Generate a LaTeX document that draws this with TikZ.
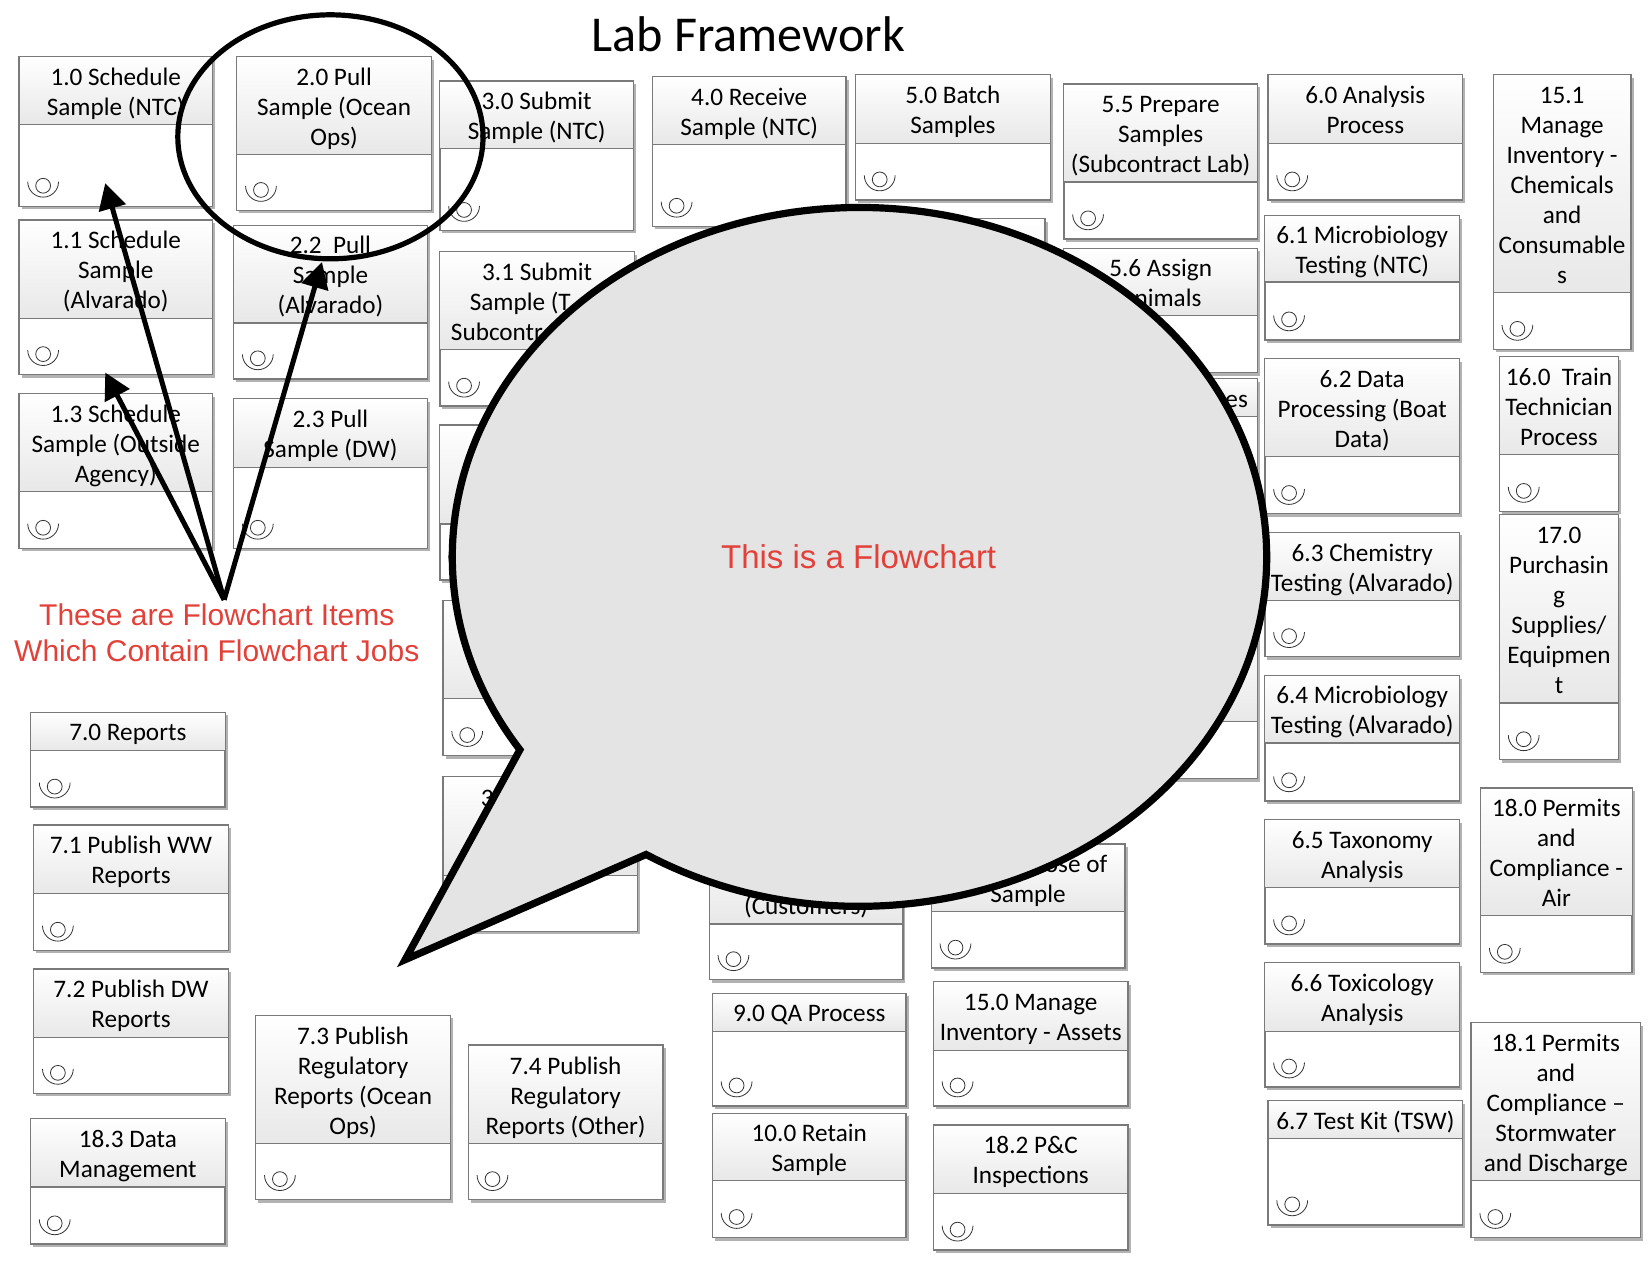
\documentclass[tikz,border=0pt]{standalone}
\usepackage{fontspec}
\setmainfont{Carlito}
\newfontfamily\calloutfont{Liberation Sans}
\usetikzlibrary{arrows.meta, positioning, calc, fit, shadows, shapes.geometric}

\definecolor{itemline}{HTML}{7A7A7A}
\definecolor{bubblegray}{HTML}{E4E4E4}
\definecolor{noteRed}{HTML}{E2413A}

\tikzset{
  itembox/.style={draw=itemline, line width=0.7pt, fill=white, inner sep=0pt,
    drop shadow={shadow xshift=1.3pt, shadow yshift=-1.5pt, fill=black, opacity=0.3}},
  itemhead/.style={draw=itemline, line width=0.6pt, top color=white, bottom color=black!9, inner sep=0pt},
  itemtext/.style={align=center, inner sep=0pt, yshift=-1.8pt, font=\fontsize{12.6}{15}\selectfont},
  itemicon/.style={line width=0.4pt, black!80},
  notetext/.style={text=noteRed, align=center, inner sep=0pt, font=\calloutfont\fontsize{15}{18}\selectfont},
  pointer/.style={line width=2.5pt, -{Triangle[length=13pt, width=13.5pt]}}
}

\newcommand{\itemstrut}{\rule[-4.5pt]{0pt}{15pt}}

% name, left, top, right, bottom, bottom of header, text
\newcommand{\flowitem}[7]{
  \node[itembox, fit={(#2,#3) (#4,#5)}] (#1) {};
  \node[itemhead, fit={(#2,#3) (#4,#6)}] (#1-head) {};
  \node[itemtext] (#1-text) at (#1-head.center) {\itemstrut #7\itemstrut};
  \draw[itemicon] (#2+23,#5-19.5) circle (3.7pt);
  \draw[itemicon] ($(#2+23,#5-23.3)+(180:7.7pt)$) arc[start angle=180, end angle=360, radius=7.7pt];
}

\begin{document}
\begin{tikzpicture}[x=0.52615pt, y=-0.52615pt]
\useasboundingbox (0,0) rectangle (1568,1212);

\node[font=\fontsize{25.1}{28}\selectfont, inner sep=0pt] (title) at (711,33) {Lab Framework};

% Schedule and pull columns
\flowitem{item10}{18}{54}{202}{196}{118}{1.0 Schedule\\Sample (NTC)}
\flowitem{item11}{18}{209}{202}{356}{303}{1.1 Schedule\\Sample\\(Alvarado)}
\flowitem{item13}{18}{374}{202}{521}{467}{1.3 Schedule\\Sample (Outside\\Agency)}
\flowitem{item20}{225}{54}{410}{200}{147}{2.0 Pull\\Sample (Ocean\\Ops)}
\flowitem{item22}{222}{214}{406}{360}{307}{2.2\ \ Pull\\Sample\\(Alvarado)}
\flowitem{item23}{222}{379}{406}{521}{444}{2.3 Pull\\Sample (DW)}

% Submit column
\flowitem{item30}{418}{77}{602}{219}{141}{3.0 Submit\\Sample (NTC)}
\flowitem{item31}{418}{239}{603}{386}{332}{3.1 Submit\\Sample (T\phantom{SW}\\Subcontr\phantom{act Lab)}}
\flowitem{item32}{418}{404}{603}{551}{498}{}
\flowitem{item33}{421}{571}{606}{718}{664}{}
\flowitem{item34}{421}{738}{606}{885}{832}{}
\node[itemtext] (item34-frag) at (463,755) {3};

% Receive and batch columns
\flowitem{item40}{620}{73}{804}{215}{137}{4.0 Receive\\Sample (NTC)}
\flowitem{item50}{813}{71}{998}{190}{136}{5.0 Batch\\Samples}
\flowitem{item51}{813}{208}{993}{400}{300}{}
\flowitem{item55}{1011}{80}{1195}{227}{173}{5.5 Prepare\\Samples\\(Subcontract Lab)}
\flowitem{item56}{1011}{236}{1195}{354}{300}{5.6 Assign\\Animals}
\flowitem{item57}{1011}{360}{1195}{500}{396}{\hspace*{76pt}es}
\flowitem{item58}{1011}{593}{1195}{740}{686}{}

% Analysis column
\flowitem{item60}{1205}{71}{1390}{190}{136}{6.0 Analysis\\Process}
\flowitem{item61}{1202}{205}{1387}{323}{268}{6.1 Microbiology\\Testing (NTC)}
\flowitem{item62}{1202}{341}{1387}{488}{434}{6.2 Data\\Processing (Boat\\Data)}
\flowitem{item63}{1202}{506}{1387}{624}{571}{6.3 Chemistry\\Testing (Alvarado)}
\flowitem{item64}{1202}{642}{1387}{761}{706}{6.4 Microbiology\\Testing (Alvarado)}
\flowitem{item65}{1202}{779}{1387}{897}{843}{6.5 Taxonomy\\Analysis}
\flowitem{item66}{1202}{915}{1387}{1033}{980}{6.6 Toxicology\\Analysis}
\flowitem{item67}{1205}{1046}{1390}{1164}{1082}{6.7 Test Kit (TSW)}

% Right side
\flowitem{item151}{1419}{71}{1550}{332}{278}{15.1\\Manage\\Inventory -\\Chemicals\\and\\Consumable\\s}
\flowitem{item160}{1425}{339}{1538}{486}{432}{16.0\ \ Train\\Technician\\Process}
\flowitem{item170}{1425}{489}{1538}{722}{668}{17.0\\Purchasin\\g\\Supplies/\\Equipmen\\t}
\flowitem{item180}{1407}{749}{1551}{924}{870}{18.0 Permits\\and\\Compliance -\\Air}
\flowitem{item181}{1398}{972}{1559}{1176}{1122}{18.1 Permits\\and\\Compliance --\\Stormwater\\and Discharge}

% Reports
\flowitem{item70}{29}{677}{214}{767}{713}{7.0 Reports}
\flowitem{item71}{32}{784}{217}{903}{849}{7.1 Publish WW\\Reports}
\flowitem{item72}{32}{921}{217}{1039}{986}{7.2 Publish DW\\Reports}
\flowitem{item73}{243}{965}{428}{1140}{1087}{7.3 Publish\\Regulatory\\Reports (Ocean\\Ops)}
\flowitem{item74}{445}{993}{630}{1140}{1087}{7.4 Publish\\Regulatory\\Reports (Other)}
\flowitem{item183}{29}{1063}{214}{1182}{1128}{18.3 Data\\Management}

% Bottom middle
\flowitem{item80}{674}{785}{858}{931}{878}{\\\itemstrut\\(Customers)}
\flowitem{item120}{885}{802}{1069}{920}{866}{\hspace*{48pt}ose of\\Sample}
\flowitem{item90}{677}{944}{861}{1051}{980}{9.0 QA Process}
\flowitem{item150}{887}{933}{1072}{1051}{998}{15.0 Manage\\Inventory - Assets}
\flowitem{item100}{677}{1058}{861}{1176}{1122}{10.0 Retain\\Sample}
\flowitem{item182}{887}{1069}{1072}{1188}{1134}{18.2 P\&C\\Inspections}

% Ring around one item
\node[draw, line width=2.6pt, ellipse, minimum width=152.6pt, minimum height=122pt, inner sep=0pt] (ring) at (314,130) {};

% Pointers
\coordinate (fork) at (213,570);
\coordinate (tip10) at (100,174);
\coordinate (tip11) at (100,354);
\coordinate (tip22) at (306,249);
\draw[pointer] (fork) -- (tip10);
\draw[pointer] (fork) -- (tip11);
\draw[pointer] (fork) -- (tip22);
\node[notetext] (itemnote) at (206,601) {These are Flowchart Items\\Which Contain Flowchart Jobs};

% Speech bubble
\draw[line width=3.6pt, fill=bubblegray, miter limit=10]
  (614,812) arc[start angle=238.4, end angle=573.5, x radius=203.6pt, y radius=174.7pt]
  -- (385,912) -- cycle;
\node[notetext, font=\calloutfont\fontsize{16.5}{20}\selectfont] (bubbletext) at (816,529) {This is a Flowchart};

\end{tikzpicture}
\end{document}
